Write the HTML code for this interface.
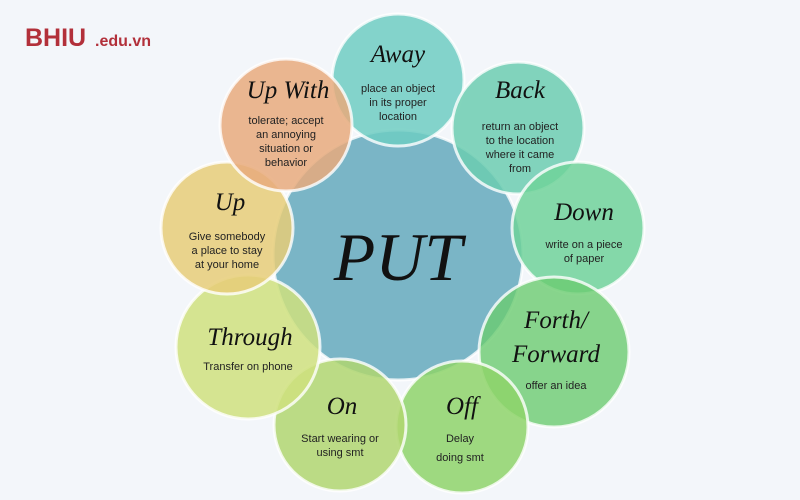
<!DOCTYPE html>
<html><head><meta charset="utf-8"><style>
body{margin:0;background:#f3f6fa;}
svg{display:block}
.t{font-family:"Liberation Serif",serif;font-style:italic;font-size:25px;fill:#111;text-anchor:middle}
.d{font-family:"Liberation Sans",sans-serif;font-size:11px;fill:#222;text-anchor:middle}
circle{stroke:#ffffff;stroke-width:3;stroke-opacity:.8}
</style></head><body>
<svg width="800" height="500" viewBox="0 0 800 500">
<rect width="800" height="500" fill="#f3f6fa"/>
<text x="25" y="46" font-family="Liberation Sans,sans-serif" font-weight="bold" font-size="25" fill="#b2303a">BHIU</text>
<text x="95" y="46" font-family="Liberation Sans,sans-serif" font-weight="bold" font-size="16" fill="#b2303a">.edu.vn</text>
<circle cx="398" cy="255" r="125" fill="#7ab5c6"/>
<circle cx="398" cy="80" r="66" fill="#6fccc2" fill-opacity=".85"/>
<circle cx="518" cy="128" r="66" fill="#6ccdb0" fill-opacity=".85"/>
<circle cx="578" cy="228" r="66" fill="#70d29a" fill-opacity=".85"/>
<circle cx="554" cy="352" r="75" fill="#6ccc70" fill-opacity=".8"/>
<circle cx="462" cy="427" r="66" fill="#8ed46a" fill-opacity=".85"/>
<circle cx="340" cy="425" r="66" fill="#b0d670" fill-opacity=".85"/>
<circle cx="248" cy="347" r="72" fill="#cfe07e" fill-opacity=".85"/>
<circle cx="227" cy="228" r="66" fill="#e6cc78" fill-opacity=".85"/>
<circle cx="286" cy="125" r="66" fill="#e8aa7c" fill-opacity=".85"/>
<text x="398" y="280" class="t" style="font-size:68px">PUT</text>
<text x="398" y="62" class="t">Away</text>
<text x="398" y="92" class="d">place an object</text><text x="398" y="106" class="d">in its proper</text><text x="398" y="120" class="d">location</text>
<text x="520" y="98" class="t">Back</text>
<text x="520" y="130" class="d">return an object</text><text x="520" y="144" class="d">to the location</text><text x="520" y="158" class="d">where it came</text><text x="520" y="172" class="d">from</text>
<text x="584" y="220" class="t">Down</text>
<text x="584" y="248" class="d">write on a piece</text><text x="584" y="262" class="d">of paper</text>
<text x="556" y="328" class="t">Forth/</text>
<text x="556" y="362" class="t">Forward</text>
<text x="556" y="389" class="d">offer an idea</text>
<text x="462" y="414" class="t">Off</text>
<text x="460" y="442" class="d">Delay</text><text x="460" y="461" class="d">doing smt</text>
<text x="342" y="414" class="t">On</text>
<text x="340" y="442" class="d">Start wearing or</text><text x="340" y="456" class="d">using smt</text>
<text x="250" y="345" class="t">Through</text>
<text x="248" y="370" class="d">Transfer on phone</text>
<text x="230" y="210" class="t">Up</text>
<text x="227" y="240" class="d">Give somebody</text><text x="227" y="254" class="d">a place to stay</text><text x="227" y="268" class="d">at your home</text>
<text x="288" y="98" class="t">Up With</text>
<text x="286" y="124" class="d">tolerate; accept</text><text x="286" y="138" class="d">an annoying</text><text x="286" y="152" class="d">situation or</text><text x="286" y="166" class="d">behavior</text>
</svg>
</body></html>
